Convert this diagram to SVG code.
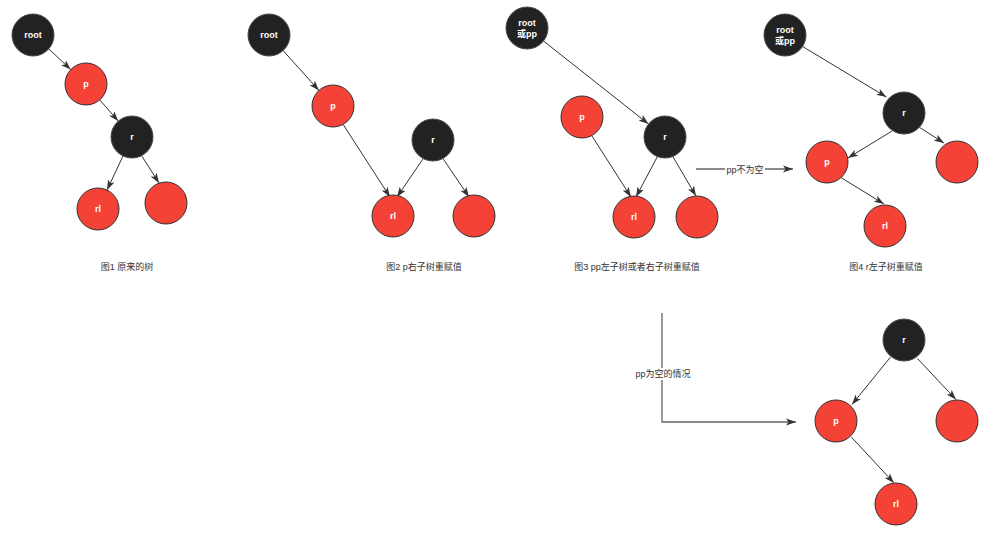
<svg xmlns="http://www.w3.org/2000/svg" width="1003" height="536" viewBox="0 0 1003 536">
<style>
.b{fill:#222222;stroke:#4a4a4a;stroke-width:1}
.r{fill:#f44336;stroke:#333333;stroke-width:1}
.t{font-family:"Liberation Sans","Noto Sans CJK SC",sans-serif;font-size:9px;font-weight:bold;fill:#ffffff;text-anchor:middle;dominant-baseline:central}
.cap{font-family:"Liberation Sans","Noto Sans CJK SC",sans-serif;font-size:9px;fill:#333333;text-anchor:middle;dominant-baseline:central}
.e{stroke:#333333;stroke-width:1;fill:none;marker-end:url(#a)}
.g{stroke:#666666;stroke-width:1.3;fill:none;marker-end:url(#a)}
</style>
<defs>
<marker id="a" markerUnits="userSpaceOnUse" markerWidth="11" markerHeight="8" refX="10" refY="4" orient="auto">
<path d="M0,0.5 L10,4 L0,7.5 L2.5,4 z" fill="#333333"/>
</marker>
</defs>
<rect width="1003" height="536" fill="#ffffff"/>
<g id="connectors">
<line class="e" x1="48.3" y1="48.4" x2="70.7" y2="69.6"/>
<line class="e" x1="99.8" y1="99.9" x2="118.2" y2="121.1"/>
<line class="e" x1="123" y1="156" x2="107" y2="190"/>
<line class="e" x1="141.6" y1="155.7" x2="159" y2="183"/>
<line class="e" x1="283.1" y1="50.6" x2="318.9" y2="90.4"/>
<line class="e" x1="343.1" y1="124.4" x2="390" y2="197"/>
<line class="e" x1="423.2" y1="158.6" x2="397" y2="197"/>
<line class="e" x1="443" y1="158.5" x2="469" y2="197"/>
<line class="e" x1="543.5" y1="41" x2="648.5" y2="124"/>
<line class="e" x1="591.7" y1="135.6" x2="631" y2="197"/>
<line class="e" x1="657.4" y1="156.6" x2="636" y2="197"/>
<line class="e" x1="672.8" y1="156.5" x2="696" y2="196"/>
<line class="e" x1="802.6" y1="46.5" x2="886.4" y2="97"/>
<line class="e" x1="892" y1="131" x2="848" y2="158"/>
<line class="e" x1="919.4" y1="127.3" x2="944" y2="143"/>
<line class="e" x1="841.1" y1="177.6" x2="884" y2="204"/>
<line class="e" x1="890.5" y1="357.1" x2="852" y2="404.5"/>
<line class="e" x1="917.5" y1="358.6" x2="956" y2="399.5"/>
<line class="e" x1="851.3" y1="437" x2="894" y2="483"/>
<line class="g" x1="696" y1="169" x2="793" y2="169"/>
<polyline class="g" points="662,313 662,422 796,422"/>
<rect x="725" y="163" width="40" height="12" fill="#ffffff"/>
<text class="cap" x="745" y="170">pp不为空</text>
<rect x="634" y="368" width="58" height="12" fill="#ffffff"/>
<text class="cap" x="663" y="374">pp为空的情况</text>
</g>
<g id="fig1">
<g id="f1-root"><circle class="b" cx="33" cy="35" r="21"/><text class="t" x="33" y="35">root</text></g>
<g id="f1-p"><circle class="r" cx="86" cy="84" r="21"/><text class="t" x="86" y="84">p</text></g>
<g id="f1-r"><circle class="b" cx="132" cy="137" r="21"/><text class="t" x="132" y="137">r</text></g>
<g id="f1-rl"><circle class="r" cx="98" cy="209" r="21"/><text class="t" x="98" y="209">rl</text></g>
<g id="f1-rr"><circle class="r" cx="166" cy="203" r="21"/></g>
<text class="cap" x="127" y="267">图1 原来的树</text>
</g>
<g id="fig2">
<g id="f2-root"><circle class="b" cx="269" cy="35" r="21"/><text class="t" x="269" y="35">root</text></g>
<g id="f2-p"><circle class="r" cx="333" cy="106" r="21"/><text class="t" x="333" y="106">p</text></g>
<g id="f2-r"><circle class="b" cx="433" cy="140" r="21"/><text class="t" x="433" y="140">r</text></g>
<g id="f2-rl"><circle class="r" cx="393" cy="216" r="21"/><text class="t" x="393" y="216">rl</text></g>
<g id="f2-rr"><circle class="r" cx="474" cy="216" r="21"/></g>
<text class="cap" x="424" y="267">图2 p右子树重赋值</text>
</g>
<g id="fig3">
<g id="f3-root"><circle class="b" cx="527" cy="28" r="21"/><text class="t" x="527" y="23">root</text><text class="t" x="527" y="34">或pp</text></g>
<g id="f3-p"><circle class="r" cx="582" cy="117" r="21"/><text class="t" x="582" y="117">p</text></g>
<g id="f3-r"><circle class="b" cx="665" cy="137" r="21"/><text class="t" x="665" y="137">r</text></g>
<g id="f3-rl"><circle class="r" cx="634" cy="217" r="21"/><text class="t" x="634" y="217">rl</text></g>
<g id="f3-rr"><circle class="r" cx="697" cy="217" r="21"/></g>
<text class="cap" x="637" y="267">图3 pp左子树或者右子树重赋值</text>
</g>
<g id="fig4">
<g id="f4-root"><circle class="b" cx="785" cy="35" r="21"/><text class="t" x="785" y="30">root</text><text class="t" x="785" y="41">或pp</text></g>
<g id="f4-r"><circle class="b" cx="904" cy="113" r="21"/><text class="t" x="904" y="113">r</text></g>
<g id="f4-p"><circle class="r" cx="827" cy="162" r="21"/><text class="t" x="827" y="162">p</text></g>
<g id="f4-rr"><circle class="r" cx="957" cy="162" r="21"/></g>
<g id="f4-rl"><circle class="r" cx="885" cy="226" r="21"/><text class="t" x="885" y="226">rl</text></g>
<text class="cap" x="886" y="267">图4 r左子树重赋值</text>
</g>
<g id="fig5">
<g id="f5-r"><circle class="b" cx="904" cy="340" r="21"/><text class="t" x="904" y="340">r</text></g>
<g id="f5-p"><circle class="r" cx="836" cy="421" r="21"/><text class="t" x="836" y="421">p</text></g>
<g id="f5-rr"><circle class="r" cx="957" cy="421" r="21"/></g>
<g id="f5-rl"><circle class="r" cx="896" cy="504" r="21"/><text class="t" x="896" y="504">rl</text></g>
</g>
</svg>
